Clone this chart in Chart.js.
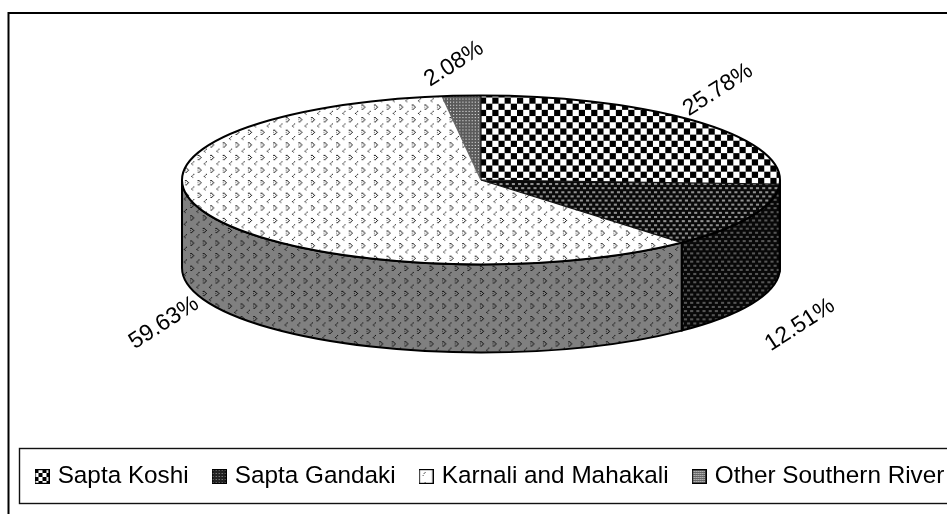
<!DOCTYPE html>
<html><head><meta charset="utf-8">
<script src="https://cdn.jsdelivr.net/npm/chart.js@4"></script>
<style>html,body{margin:0;padding:0;background:#fff;overflow:hidden;width:947px;height:514px}canvas{display:block}</style>
</head><body><canvas id="c" width="1300" height="514"></canvas>
<script>
const categories = ['Sapta Koshi', 'Sapta Gandaki', 'Karnali and Mahakali', 'Other Southern River'];
const shares = [25.78, 12.51, 59.63, 2.08];
const shareLabels = ['25.78%', '12.51%', '59.63%', '2.08%'];

const PIE = {cx: 481, cy: 180, rx: 299, ry: 84.5, depth: 88};
const LABEL_PLACE = [[718, 90, -33], [800, 325, -33], [164, 323, -33], [454, 64, -33]];
const FONT = 'Liberation Sans, Arial, sans-serif';
const k = PIE.ry / PIE.rx;

function tile(w, h, bg, cells) {
  const c = document.createElement('canvas'); c.width = w; c.height = h;
  const x = c.getContext('2d');
  x.fillStyle = bg; x.fillRect(0, 0, w, h);
  cells.forEach(([col, a, b, cw, ch]) => { x.fillStyle = col; x.fillRect(a, b, cw, ch); });
  return c;
}
const checker = () => tile(12, 12, '#fff', [['#000', 0, 0, 6, 6], ['#000', 6, 6, 6, 6]]);
const dashes = (bg, fg) => tile(6, 8, bg, [[fg, 1, 1, 3, 2], [fg, 4, 5, 2, 2], [fg, 0, 5, 1, 2]]);
const chevron = (bg, a, b) => tile(12, 12, bg, [
  [a, 1, 1, 1, 1], [a, 2, 1, 1, 1], [a, 3, 2, 1, 1], [a, 4, 3, 1, 1], [a, 3, 4, 1, 1], [a, 2, 5, 1, 1], [b, 1, 3, 1, 1], [b, 1, 5, 1, 1],
  [a, 9, 7, 1, 1], [b, 8, 8, 1, 1], [a, 7, 9, 1, 1], [b, 8, 10, 1, 1]]);
const dots = () => tile(3, 3, '#5a5a5a', [['#eee', 1, 1, 1, 1]]);

const probe = document.createElement('canvas').getContext('2d');
function pat(source, squash, stretch = 1.03) {
  const p = probe.createPattern(source, 'repeat');
  p.setTransform(new DOMMatrix().scale(stretch, squash ? stretch / k : stretch));
  return p;
}
const topFills = [pat(checker(), true), pat(dashes('#0a0a0a', '#909090'), true),
                  pat(chevron('#fff', '#222', '#777'), true, 1.05), pat(dots(), true)];
const wallFills = ['#111', pat(dashes('#080808', '#555')), pat(chevron('#808080', '#111', '#333'), false, 1.05), '#555'];

function marker(fill) {
  const c = document.createElement('canvas'); c.width = 15; c.height = 15;
  const x = c.getContext('2d');
  x.fillStyle = '#fff'; x.fillRect(0, 0, 15, 15);
  x.fillStyle = fill; x.fillRect(1, 1, 13, 13);
  x.strokeStyle = '#000'; x.lineWidth = 1.2; x.strokeRect(.6, .6, 13.8, 13.8);
  return c;
}
const smallChecker = tile(8, 8, '#fff', [['#000', 0, 0, 4, 4], ['#000', 4, 4, 4, 4]]);
const markers = [
  marker(probe.createPattern(smallChecker, 'repeat')),
  marker(probe.createPattern(tile(3, 3, '#222', [['#999', 1, 1, 1, 1]]), 'repeat')),
  marker(probe.createPattern(tile(10, 10, '#fff', [['#555', 6, 3, 1, 1], ['#555', 5, 4, 1, 1], ['#555', 4, 6, 1, 1]]), 'repeat')),
  marker(probe.createPattern(tile(2, 2, '#666', [['#ddd', 0, 0, 1, 1]]), 'repeat'))
];

const pie3d = {
  id: 'pie3d',
  beforeDraw(chart) {
    const c = chart.ctx;
    c.save();
    c.fillStyle = '#fff'; c.fillRect(0, 0, chart.width, chart.height);
    c.strokeStyle = '#000'; c.lineWidth = 2;
    c.beginPath(); c.moveTo(8.5, 514); c.lineTo(8.5, 13); c.lineTo(chart.width, 13); c.stroke();
    c.lineWidth = 1.4; c.strokeStyle = '#111';
    c.strokeRect(19.5, 448.5, 1200, 55);
    c.restore();
  },
  afterLayout(chart) {
    const l = chart.legend;
    const h = l.bottom - l.top;
    l.left = 11.5; l.top = 468 - h / 2; l.bottom = l.top + h;
  },
  beforeDatasetsDraw(chart) {
    const c = chart.ctx, arcs = chart.getDatasetMeta(0).data;
    c.save();
    arcs.forEach((a, i) => {
      const s = Math.max(a.startAngle, 0), e = Math.min(a.endAngle, Math.PI);
      if (e <= s) return;
      c.beginPath();
      c.ellipse(PIE.cx, PIE.cy, PIE.rx, PIE.ry, 0, s, e);
      c.ellipse(PIE.cx, PIE.cy + PIE.depth, PIE.rx, PIE.ry, 0, e, s, true);
      c.closePath();
      c.fillStyle = wallFills[i]; c.fill();
      c.strokeStyle = '#000'; c.lineWidth = 2; c.stroke();
    });
    c.restore();
    const a0 = arcs[0];
    c.save();
    c.translate(PIE.cx, PIE.cy); c.scale(1, k); c.translate(-a0.x, -a0.y);
  },
  afterDatasetsDraw(chart) {
    const c = chart.ctx, arcs = chart.getDatasetMeta(0).data;
    c.restore();
    c.save();
    c.strokeStyle = '#111'; c.lineWidth = 1.2;
    arcs.forEach((a, i) => {
      if (i === 3) c.strokeStyle = '#666';
      c.beginPath(); c.moveTo(PIE.cx, PIE.cy);
      c.lineTo(PIE.cx + PIE.rx * Math.cos(a.startAngle), PIE.cy + PIE.ry * Math.sin(a.startAngle));
      c.stroke();
    });
    c.strokeStyle = '#000'; c.lineWidth = 2;
    c.beginPath(); c.ellipse(PIE.cx, PIE.cy, PIE.rx, PIE.ry, 0, 0, Math.PI * 2); c.stroke();
    c.fillStyle = '#000'; c.font = '23px ' + FONT; c.textAlign = 'center'; c.textBaseline = 'middle';
    shareLabels.forEach((t, i) => {
      const [x, y, r] = LABEL_PLACE[i];
      c.save(); c.translate(x, y); c.rotate(r * Math.PI / 180); c.fillText(t, 0, 0); c.restore();
    });
    c.restore();
  }
};

new Chart(document.getElementById('c'), {
  type: 'pie',
  data: {labels: categories, datasets: [{data: shares, backgroundColor: topFills, borderWidth: 0, clip: false}]},
  options: {
    responsive: false, animation: false, radius: PIE.rx,
    plugins: {
      tooltip: {enabled: false},
      legend: {
        position: 'bottom', align: 'start',
        labels: {
          font: {family: FONT, size: 24.3}, color: '#000', padding: 27, usePointStyle: true, pointStyleWidth: 7,
          generateLabels: () => categories.map((t, i) => ({text: t, pointStyle: markers[i], datasetIndex: 0, index: i, hidden: false}))
        }
      }
    }
  },
  plugins: [pie3d]
});
</script></body></html>
